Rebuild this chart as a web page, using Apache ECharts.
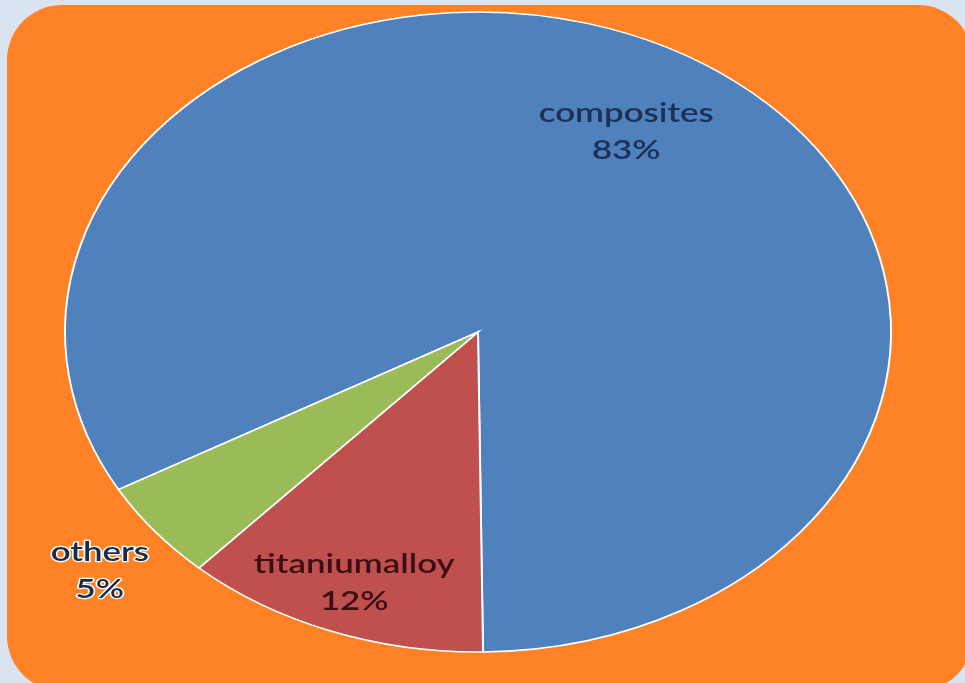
<!DOCTYPE html>
<html>
<head>
<meta charset="utf-8">
<script src="https://cdn.jsdelivr.net/npm/echarts@6/dist/echarts.min.js"></script>
<style>
html,body{margin:0;padding:0;background:#d9e4f0;overflow:hidden;}
#chart{width:965px;height:683px;}
</style>
</head>
<body>
<div id="chart"></div>
<script>
// Data
const categories = ['composites', 'titaniumalloy', 'others'];
const values = [83, 12, 5];
const percentLabels = ['83%', '12%', '5%'];

// Styles / layout
const colors = ['#4f81bd', '#c0504d', '#9bbb59'];
const labelColors = ['#1d3156', '#3a1014', '#1d2a46'];
const labelRadius = [0.72, 0.84, 1.17];
const startDeg = 240.5; // clockwise from 12 o'clock
const CX = 478, CY = 332, RX = 413, RY = 320;

const total = values.reduce((a, b) => a + b, 0);

const chart = echarts.init(document.getElementById('chart'), null, {renderer: 'canvas'});

function renderItem(params, api) {
  const i = params.dataIndex;
  let before = 0;
  for (let k = 0; k < i; k++) before += values[k];
  const v = api.value(0);
  const a0 = startDeg + before / total * 360;
  const a1 = a0 + v / total * 360;
  const mid = (a0 + a1) / 2 * Math.PI / 180;
  const toRad = d => (d - 90) * Math.PI / 180;
  const k = labelRadius[i];
  return {
    type: 'group',
    children: [
      {
        type: 'sector',
        x: CX, y: CY, scaleX: RX / RY, scaleY: 1,
        shape: {cx: 0, cy: 0, r0: 0, r: RY, startAngle: toRad(a0), endAngle: toRad(a1), clockwise: true},
        style: {fill: colors[i], stroke: '#ffffff', lineWidth: 1.5, strokeNoScale: true}
      },
      {
        type: 'text',
        x: CX + RX * k * Math.sin(mid),
        y: CY - RY * k * Math.cos(mid) + (i === 2 ? 6 : 0),
        scaleX: RX / RY,
        style: {
          text: categories[i] + '\n' + percentLabels[i],
          fill: labelColors[i],
          font: '600 27px Lato, "Open Sans", sans-serif',
          lineHeight: 37,
          align: 'center',
          verticalAlign: 'middle',
          stroke: i === 2 ? '#ffffff' : null,
          lineWidth: i === 2 ? 2.5 : 0
        }
      }
    ]
  };
}

chart.setOption({
  animation: false,
  backgroundColor: '#d9e4f0',
  graphic: [{
    type: 'rect',
    z: -10,
    shape: {x: 7, y: 5, width: 966, height: 686, r: 55},
    style: {fill: '#ff8226'}
  }],
  series: [{
    type: 'custom',
    coordinateSystem: 'none',
    renderItem: renderItem,
    data: values.map((v, i) => ({name: categories[i], value: [v]}))
  }]
});
</script>
</body>
</html>
